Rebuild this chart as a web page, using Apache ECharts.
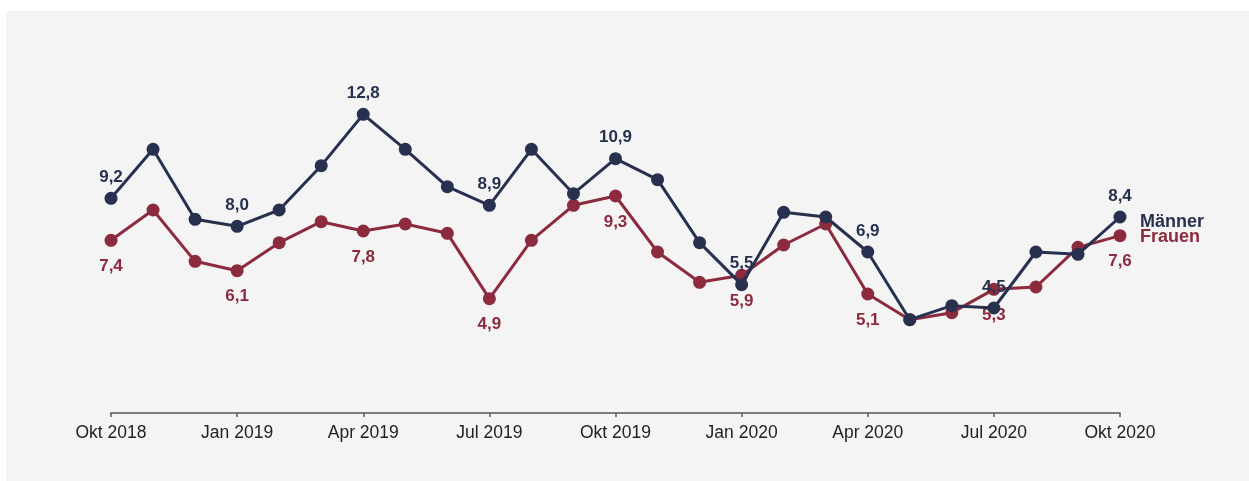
<!DOCTYPE html>
<html>
<head>
<meta charset="utf-8">
<script src="https://cdn.jsdelivr.net/npm/echarts@6/dist/echarts.min.js"></script>
<style>
  html, body { margin: 0; padding: 0; background: #ffffff; }
  #panel { position: absolute; left: 6px; top: 11px; right: 0; bottom: 0; background: #f4f4f4; }
  #chart { position: absolute; left: 0; top: 0; width: 1249px; height: 481px; }
</style>
</head>
<body>
<div id="panel"></div>
<div id="chart"></div>
<script>
// Monthly values, Oktober 2018 bis Oktober 2020
const months = [
  'Okt 2018', 'Nov 2018', 'Dez 2018',
  'Jan 2019', 'Feb 2019', 'Mär 2019', 'Apr 2019', 'Mai 2019', 'Jun 2019',
  'Jul 2019', 'Aug 2019', 'Sep 2019', 'Okt 2019', 'Nov 2019', 'Dez 2019',
  'Jan 2020', 'Feb 2020', 'Mär 2020', 'Apr 2020', 'Mai 2020', 'Jun 2020',
  'Jul 2020', 'Aug 2020', 'Sep 2020', 'Okt 2020'
];
const maenner = [9.2, 11.3, 8.3, 8.0, 8.7, 10.6, 12.8, 11.3, 9.7, 8.9, 11.3, 9.4, 10.9,
                 10.0, 7.3, 5.5, 8.6, 8.4, 6.9, 4.0, 4.6, 4.5, 6.9, 6.8, 8.4];
const frauen  = [7.4, 8.7, 6.5, 6.1, 7.3, 8.2, 7.8, 8.1, 7.7, 4.9, 7.4, 8.9, 9.3,
                 6.9, 5.6, 5.9, 7.2, 8.1, 5.1, 4.0, 4.3, 5.3, 5.4, 7.1, 7.6];
// Quarterly points that carry a value label
const labelledIdx = [0, 3, 6, 9, 12, 15, 18, 21, 24];

const navy = '#27314f';
const red = '#8c2a3e';
const FONT = 'Liberation Sans, Arial, sans-serif';

function withLabels(values) {
  return values.map((v, i) => labelledIdx.includes(i)
    ? { value: v, label: { show: true } }
    : { value: v });
}

const fmtComma = p => String(p.value.toFixed(1)).replace('.', ',');

const chart = echarts.init(document.getElementById('chart'), null, { renderer: 'canvas' });
chart.setOption({
  backgroundColor: 'transparent',
  animation: false,
  textStyle: { fontFamily: FONT },
  grid: { left: 111, right: 129, top: 63, bottom: 68 },
  xAxis: {
    type: 'category',
    data: months,
    boundaryGap: false,
    axisLine: { lineStyle: { color: '#555555', width: 1.5 } },
    axisTick: { interval: 2, length: 4, lineStyle: { color: '#555555', width: 1.5 } },
    axisLabel: {
      interval: 2, margin: 11, color: '#222222', fontSize: 17.5, fontFamily: FONT
    },
    splitLine: { show: false }
  },
  yAxis: {
    type: 'value', min: 0, max: 15, show: false
  },
  series: [
    {
      name: 'Männer',
      type: 'line',
      data: withLabels(maenner),
      color: navy,
      symbol: 'circle',
      symbolSize: 13,
      lineStyle: { width: 3, color: navy },
      itemStyle: { color: navy },
      z: 3,
      label: {
        show: false, position: 'top', distance: 6,
        color: navy, fontSize: 17, fontWeight: 'bold', fontFamily: FONT,
        formatter: fmtComma
      },
      endLabel: {
        show: true, formatter: '{a}', color: navy, fontSize: 18, fontWeight: 'bold',
        fontFamily: FONT, distance: 20, offset: [0, 5]
      }
    },
    {
      name: 'Frauen',
      type: 'line',
      data: withLabels(frauen),
      color: red,
      symbol: 'circle',
      symbolSize: 13,
      lineStyle: { width: 3, color: red },
      itemStyle: { color: red },
      z: 2,
      label: {
        show: false, position: 'bottom', distance: 11,
        color: red, fontSize: 17, fontWeight: 'bold', fontFamily: FONT,
        formatter: fmtComma
      },
      endLabel: {
        show: true, formatter: '{a}', color: red, fontSize: 18, fontWeight: 'bold',
        fontFamily: FONT, distance: 20, offset: [0, 1]
      }
    }
  ]
});
</script>
</body>
</html>
